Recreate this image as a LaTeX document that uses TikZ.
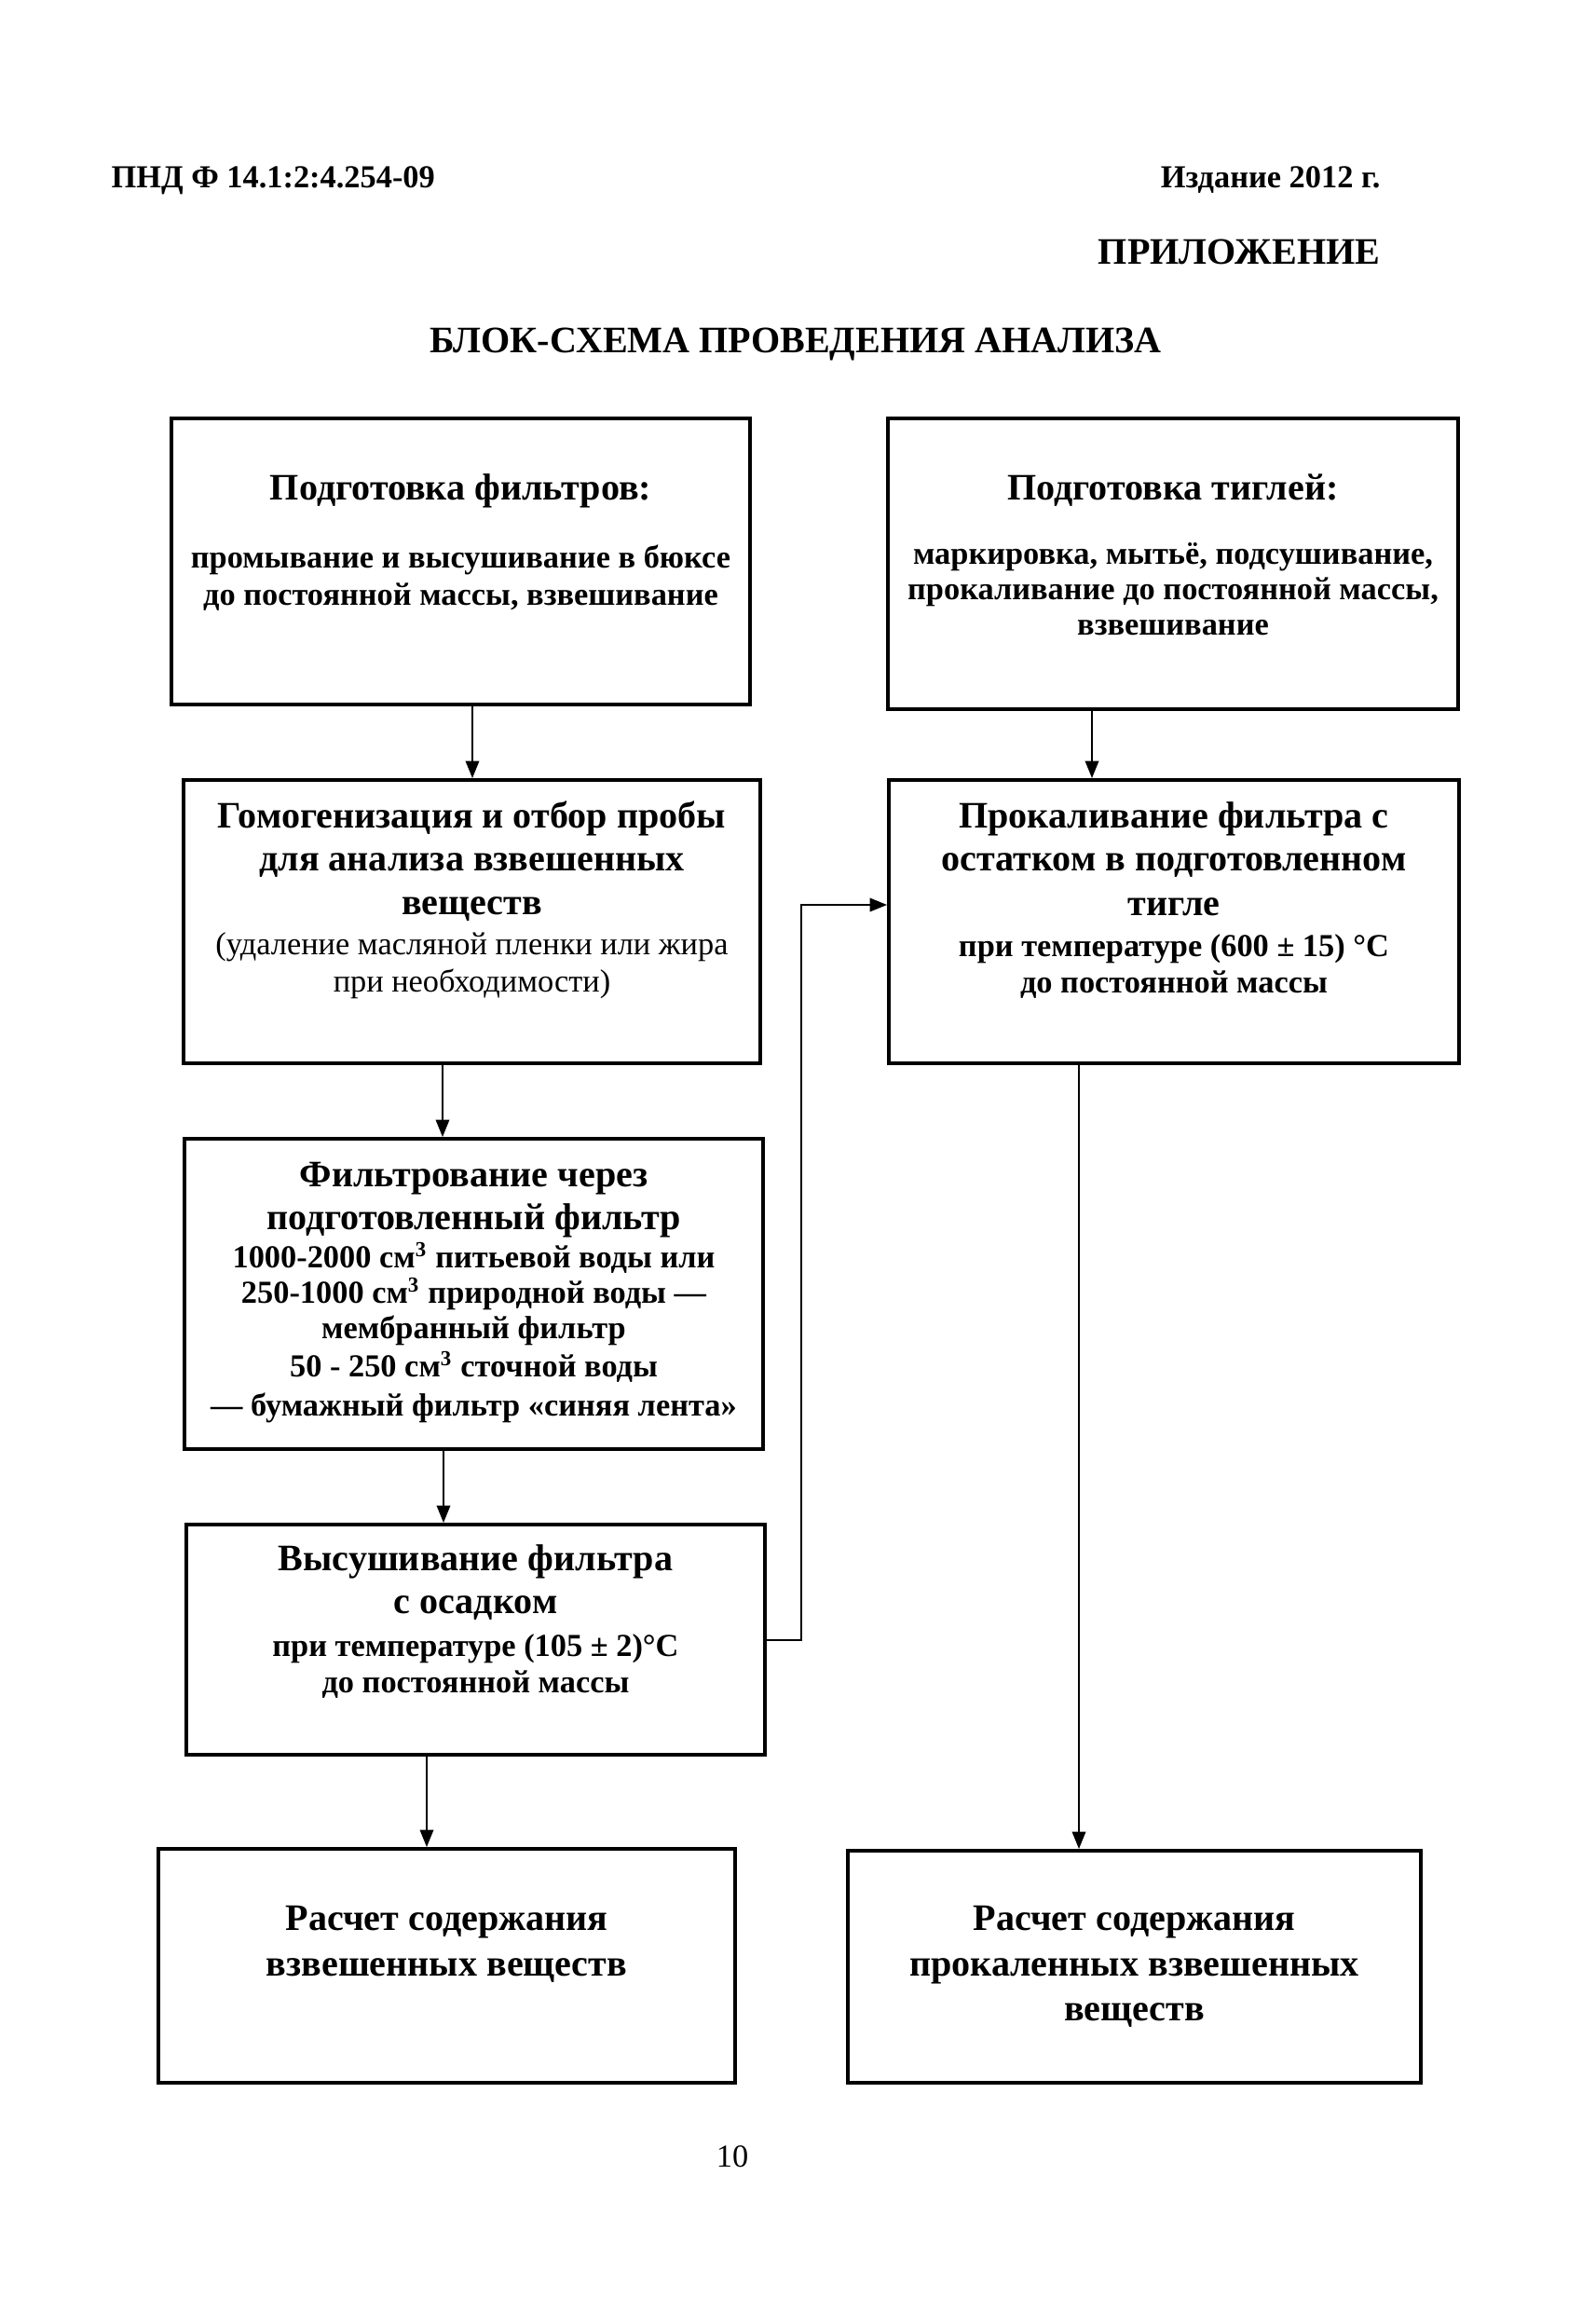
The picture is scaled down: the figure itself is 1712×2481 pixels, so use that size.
\documentclass[tikz,border=0pt]{standalone}
\usepackage{fontspec}
\setmainfont{Liberation Serif}
\usetikzlibrary{arrows.meta,fit}
\tikzset{
  box/.style={draw, line width=1.3pt, inner sep=0pt},
  hd/.style={font=\fontsize{14}{16}\selectfont\bfseries, text height=10pt, text depth=3pt, inner sep=0pt},
  bd/.style={font=\fontsize{12}{14}\selectfont\bfseries, text height=8.5pt, text depth=2.5pt, inner sep=0pt},
  rg/.style={font=\fontsize{12}{14}\selectfont, text height=8.5pt, text depth=2.5pt, inner sep=0pt},
  arr/.style={-{Triangle[length=6.5pt,width=5pt]}, line width=0.9pt}
}
\begin{document}
\begin{tikzpicture}[x=0.0122664cm,y=-0.0122664cm]
\useasboundingbox (0,0) rectangle (1712,2481);
\fill[white] (0,0) rectangle (1712,2481);

% header
\node[bd, anchor=west] (hl) at (119,193) {ПНД Ф 14.1:2:4.254-09};
\node[bd, anchor=east] (hr) at (1482,193) {Издание 2012 г.};
\node[hd, anchor=east] (app) at (1482,273) {ПРИЛОЖЕНИЕ};
\node[hd] (title) at (854,368) {БЛОК-СХЕМА ПРОВЕДЕНИЯ АНАЛИЗА};

% boxes
\node[box, fit={(184,449) (805,756)}] (A) {};
\node[box, fit={(953,449) (1565,761)}] (B) {};
\node[box, fit={(197,837) (816,1141)}] (C) {};
\node[box, fit={(954,837) (1566,1141)}] (D) {};
\node[box, fit={(198,1222) (819,1555)}] (E) {};
\node[box, fit={(200,1636) (821,1883)}] (F) {};
\node[box, fit={(170,1984) (789,2235)}] (G) {};
\node[box, fit={(910,1986) (1525,2235)}] (H) {};

% box A text
\node[hd] (a1) at (494.5,526) {Подготовка фильтров:};
\node[bd] (a2) at (494.5,601) {промывание и высушивание в бюксе};
\node[bd] (a3) at (494.5,641) {до постоянной массы, взвешивание};

% box B text
\node[hd] (b1) at (1259,526) {Подготовка тиглей:};
\node[bd] (b2) at (1259,597) {маркировка, мытьё, подсушивание,};
\node[bd] (b3) at (1259,635) {прокаливание до постоянной массы,};
\node[bd] (b4) at (1259,673) {взвешивание};

% box C text
\node[hd] (c1) at (506.5,878) {Гомогенизация и отбор пробы};
\node[hd] (c2) at (506.5,924) {для анализа взвешенных};
\node[hd] (c3) at (506.5,971) {веществ};
\node[rg] (c4) at (506.5,1016) {(удаление масляной пленки или жира};
\node[rg] (c5) at (506.5,1056) {при необходимости)};

% box D text
\node[hd] (d1) at (1260,878) {Прокаливание фильтра с};
\node[hd] (d2) at (1260,924) {остатком в подготовленном};
\node[hd] (d3) at (1260,972) {тигле};
\node[bd] (d4) at (1260,1018) {при температуре (600 ± 15) °С};
\node[bd] (d5) at (1260,1057) {до постоянной массы};

% box E text
\node[hd] (e1) at (508.5,1263) {Фильтрование через};
\node[hd] (e2) at (508.5,1309) {подготовленный фильтр};
\node[bd] (e3) at (508.5,1352) {1000-2000 см\textsuperscript{3} питьевой воды или};
\node[bd] (e4) at (508.5,1390) {250-1000 см\textsuperscript{3} природной воды —};
\node[bd] (e5) at (508.5,1428) {мембранный фильтр};
\node[bd] (e6) at (508.5,1469) {50 - 250 см\textsuperscript{3} сточной воды};
\node[bd] (e7) at (508.5,1511) {— бумажный фильтр «синяя лента»};

% box F text
\node[hd] (f1) at (510.5,1675) {Высушивание фильтра};
\node[hd] (f2) at (510.5,1721) {с осадком};
\node[bd] (f3) at (510.5,1769) {при температуре (105 ± 2)°С};
\node[bd] (f4) at (510.5,1808) {до постоянной массы};

% box G text
\node[hd] (g1) at (479.5,2061) {Расчет содержания};
\node[hd] (g2) at (479.5,2110) {взвешенных веществ};

% box H text
\node[hd] (h1) at (1217.5,2061) {Расчет содержания};
\node[hd] (h2) at (1217.5,2110) {прокаленных взвешенных};
\node[hd] (h3) at (1217.5,2158) {веществ};

% page number
\node[font=\fontsize{12}{14}\selectfont, inner sep=0pt] (pg) at (786,2314) {10};

% connector guide coordinates
\coordinate (xAC) at (507,0);
\coordinate (xBD) at (1172,0);
\coordinate (xCE) at (475,0);
\coordinate (xEF) at (476,0);
\coordinate (xFG) at (458,0);
\coordinate (xDH) at (1158,0);
\coordinate (k1) at (860,1760);
\coordinate (k2) at (860,971);

\draw[arr] (A.south -| xAC) -- (C.north -| xAC);
\draw[arr] (B.south -| xBD) -- (D.north -| xBD);
\draw[arr] (C.south -| xCE) -- (E.north -| xCE);
\draw[arr] (E.south -| xEF) -- (F.north -| xEF);
\draw[arr] (F.south -| xFG) -- (G.north -| xFG);
\draw[arr] (D.south -| xDH) -- (H.north -| xDH);
\draw[arr] (F.east |- k1) -- (k1) -- (k2) -- (D.west |- k2);
\end{tikzpicture}
\end{document}
